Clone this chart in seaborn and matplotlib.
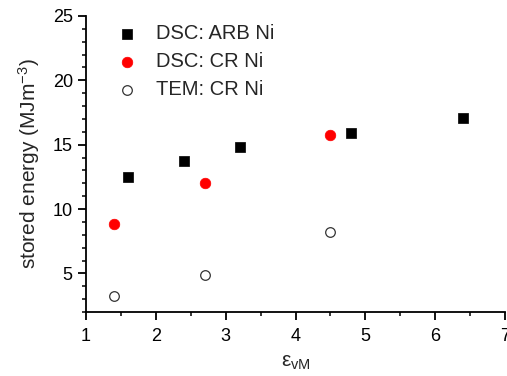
import matplotlib
matplotlib.use("Agg")
import matplotlib.pyplot as plt
import seaborn as sns
import pandas as pd
from matplotlib.ticker import MultipleLocator

arb_x = [1.6, 2.4, 3.2, 4.8, 6.4]
arb_y = [12.5, 13.7, 14.8, 15.9, 17.05]
dsc_cr_x = [1.4, 2.7, 4.5]
dsc_cr_y = [8.85, 12.05, 15.75]
tem_cr_x = [1.4, 2.7, 4.5]
tem_cr_y = [3.25, 4.85, 8.25]
labels = ["DSC: ARB Ni", "DSC: CR Ni", "TEM: CR Ni"]

sns.set_style("ticks")
plt.rcParams['font.family'] = ['Liberation Sans', 'DejaVu Sans']
plt.rcParams['mathtext.fontset'] = 'custom'
plt.rcParams['mathtext.rm'] = 'Liberation Sans'
plt.rcParams['mathtext.it'] = 'Liberation Sans:italic'

fig = plt.figure(figsize=(5.07, 3.76), dpi=100)
ax = fig.add_axes([86/507, 1-312/376, (505-86)/507, (312-16)/376])

df1 = pd.DataFrame({"x": arb_x, "y": arb_y})
df2 = pd.DataFrame({"x": dsc_cr_x, "y": dsc_cr_y})
df3 = pd.DataFrame({"x": tem_cr_x, "y": tem_cr_y})

sns.scatterplot(data=df1, x="x", y="y", ax=ax, marker="s", s=55, color="black",
                edgecolor="black", linewidth=0.5, label=labels[0])
sns.scatterplot(data=df2, x="x", y="y", ax=ax, marker="o", s=58, color="#ff0000",
                edgecolor="#ff0000", linewidth=0.5, label=labels[1])
sns.scatterplot(data=df3, x="x", y="y", ax=ax, marker="o", s=48, facecolor="white",
                edgecolor="#333333", linewidth=0.9, label=labels[2])

ax.set_xlim(1, 7)
ax.set_ylim(2, 25)
ax.xaxis.set_major_locator(MultipleLocator(1))
ax.xaxis.set_minor_locator(MultipleLocator(0.5))
ax.yaxis.set_major_locator(MultipleLocator(5))
ax.yaxis.set_minor_locator(MultipleLocator(1))
ax.tick_params(which='major', direction='out', length=5.5, width=1.3, labelsize=13, colors='black')
ax.tick_params(axis='x', which='major', pad=6)
ax.tick_params(axis='y', which='major', pad=4)
ax.tick_params(which='minor', direction='out', length=3, width=1.3)
sns.despine(ax=ax)
for s in ['left', 'bottom']:
    ax.spines[s].set_linewidth(1.3)
    ax.spines[s].set_color('black')

ax.set_xlabel(r'$\mathrm{ε_{vM}}$', fontsize=15, labelpad=6)
ax.set_ylabel(r'stored energy (MJm$^{-3}$)', fontsize=15, labelpad=8)

ax.legend(loc='upper left', frameon=False, fontsize=14.5, bbox_to_anchor=(0.03, 1.0),
          handletextpad=0.45, labelspacing=0.45, borderaxespad=0)

fig.savefig("out.png", dpi=100)
